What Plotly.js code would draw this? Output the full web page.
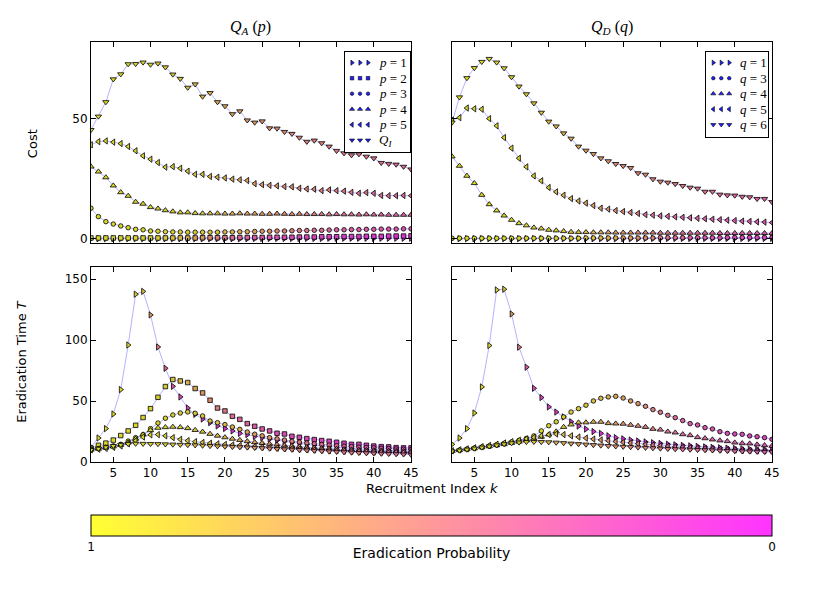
<!DOCTYPE html>
<html>
<head>
<meta charset="utf-8">
<script src="https://cdn.plot.ly/plotly-3.0.1.min.js"></script>
<style>
  body { margin: 0; background: white; }
  #plot { width: 830px; height: 593px; }
</style>
</head>
<body>
<div id="plot"></div>
<script>
// Recruitment index k (x axis for every panel)
let kIdx = [2,3,4,5,6,7,8,9,10,11,12,13,14,15,16,17,18,19,20,21,22,23,24,25,26,27,28,29,30,31,32,33,34,35,36,37,38,39,40,41,42,43,44,45];

// Cost, Q_A(p) panel
let costP1 = [0.1,0.1,0.1,0.1,0.1,0.1,0.1,0.1,0.1,0.1,0.1,0.1,0.1,0.1,0.1,0.1,0.1,0.1,0.1,0.1,0.1,0.1,0.2,0.2,0.2,0.2,0.2,0.2,0.2,0.2,0.2,0.2,0.3,0.3,0.3,0.3,0.3,0.3,0.3,0.3,0.3,0.3,0.3,0.3];
let costP2 = [0.4,0.4,0.4,0.4,0.4,0.4,0.4,0.4,0.4,0.4,0.4,0.4,0.4,0.4,0.4,0.5,0.5,0.5,0.5,0.5,0.6,0.6,0.6,0.6,0.7,0.7,0.7,0.7,0.8,0.8,0.8,0.9,0.9,0.9,1.0,1.0,1.0,1.1,1.1,1.1,1.2,1.2,1.2,1.3];
let costP3 = [12.8,9.3,7.2,6.2,5.4,4.7,4.0,3.8,3.3,3.2,3.0,2.9,2.9,2.8,2.8,2.8,2.8,2.8,2.9,2.9,3.0,3.0,3.1,3.2,3.2,3.3,3.3,3.4,3.5,3.5,3.6,3.6,3.7,3.8,3.8,3.9,3.9,4.0,4.0,4.1,4.1,4.1,4.2,4.2];
let costP4 = [30.1,28.0,25.6,22.2,19.4,17.9,15.4,14.6,13.2,12.6,11.9,11.4,11.0,11.0,10.7,10.6,10.6,10.6,10.5,10.5,10.6,10.5,10.5,10.4,10.4,10.5,10.4,10.3,10.4,10.3,10.3,10.3,10.2,10.3,10.2,10.2,10.1,10.2,10.1,10.1,10.0,10.0,10.0,10.0];
let costP5 = [39.2,40.5,40.8,40.3,39.7,38.5,36.7,34.6,33.2,31.8,29.9,30.1,29.4,28.2,26.9,26.9,26.0,25.7,25.4,24.9,24.6,24.3,23.0,22.6,22.3,22.1,21.8,21.7,21.1,20.8,20.7,20.1,20.4,20.1,19.9,19.4,19.0,19.3,19.0,18.1,18.0,18.0,18.1,18.0];
let costQI = [45.4,51.0,57.0,66.5,68.6,72.8,72.9,73.5,72.6,73.1,71.5,68.5,66.7,63.0,64.4,59.3,60.8,57.0,55.3,52.0,53.2,49.4,48.5,49.0,46.1,46.0,44.6,43.8,42.2,40.5,41.0,39.9,38.5,36.7,35.7,34.9,35.3,34.3,33.6,31.7,31.3,31.0,30.1,29.0];

// Cost, Q_D(q) panel
let costQ1 = [0.1,0.1,0.1,0.1,0.1,0.1,0.1,0.1,0.1,0.1,0.1,0.1,0.1,0.1,0.1,0.1,0.1,0.1,0.1,0.1,0.1,0.1,0.1,0.1,0.1,0.1,0.2,0.2,0.2,0.2,0.2,0.2,0.2,0.2,0.2,0.2,0.2,0.2,0.2,0.2,0.2,0.2,0.2,0.2];
let costQ3 = [0.3,0.3,0.3,0.3,0.3,0.3,0.3,0.3,0.3,0.3,0.3,0.3,0.3,0.3,0.3,0.3,0.3,0.3,0.4,0.4,0.4,0.4,0.4,0.4,0.4,0.4,0.4,0.4,0.5,0.5,0.5,0.5,0.5,0.5,0.5,0.5,0.5,0.6,0.6,0.6,0.6,0.6,0.6,0.6];
let costQ4 = [34.3,30.4,26.25,23.2,18.3,14.4,11.8,9.7,7.9,6.5,5.6,4.7,4.3,3.75,3.5,3.2,2.9,2.8,2.8,2.7,2.7,2.7,2.6,2.6,2.6,2.6,2.6,2.6,2.5,2.5,2.5,2.5,2.5,2.5,2.5,2.5,2.4,2.4,2.4,2.4,2.4,2.4,2.4,2.4];
let costQ5 = [49.5,50.5,54.5,54.2,54.0,50.1,47.1,42.2,37.8,33.6,30.0,26.25,24.2,21.4,19.6,18.2,16.8,15.8,14.9,13.9,12.8,12.4,11.8,11.4,11.0,10.6,10.1,9.9,9.6,9.4,9.2,9.0,8.8,8.6,8.4,8.2,8.0,7.8,7.6,7.4,7.3,7.1,7.0,6.8];
let costQ6 = [48.5,59.0,67.0,71.2,73.75,75.0,73.5,71.1,67.4,63.5,60.3,56.5,52.6,48.9,46.9,44.0,41.8,38.5,36.8,35.4,33.6,32.4,31.25,30.4,29.6,27.4,26.8,24.9,23.9,23.5,22.9,22.1,21.4,21.0,19.7,19.7,18.5,18.2,18.1,17.6,17.4,16.7,16.7,15.4];

// Eradication time, Q_A(p)
let timeP1 = [12.3,19.7,27.4,39.4,59.4,96.0,137.7,140.0,120.7,94.4,76.9,62.1,53.4,44.3,39.1,35.3,32.3,29.6,27.5,25.5,23.5,22.5,21.0,20.0,18.8,17.8,16.8,15.9,15.1,14.4,13.7,13.1,12.6,12.1,11.6,11.2,10.8,10.4,10.1,9.8,9.5,9.2,9.0,8.8];
let timeP2 = [11.5,13.7,15.5,18.0,21.7,25.5,30.1,36.5,43.8,53.1,61.9,67.7,66.5,65.2,60.3,56.7,50.7,44.3,41.9,37.5,35.0,31.5,29.3,27.1,25.5,23.6,23.0,21.1,20.3,19.2,18.4,17.6,17.0,16.2,15.4,14.5,14.5,13.7,13.1,12.6,12.4,11.8,11.6,11.6];
let timeP3 = [10.5,11.0,12.0,13.2,14.5,17.2,20.0,22.5,27.4,32.0,35.9,38.6,40.2,41.1,40.0,37.8,33.7,32.3,30.7,28.7,26.8,24.6,22.8,21.5,20.0,19.0,18.0,17.0,16.3,15.6,15.0,14.4,13.9,13.4,13.0,12.6,12.2,11.9,11.6,11.3,11.0,10.7,10.5,10.3];
let timeP4 = [10.0,10.8,11.7,12.7,14.0,16.0,19.0,22.5,26.0,28.0,28.5,28.8,28.5,27.7,26.2,24.8,23.0,21.5,20.2,19.0,18.0,17.0,16.2,15.5,14.8,14.2,13.6,13.1,12.6,12.1,11.7,11.3,11.0,10.7,10.4,10.1,9.9,9.7,9.5,9.3,9.1,9.0,8.8,8.7];
let timeP5 = [10.0,10.5,11.2,12.0,13.2,15.0,17.5,20.5,22.3,22.5,21.5,20.0,18.6,17.5,16.7,16.0,15.4,14.9,14.4,14.0,13.6,13.2,12.8,12.4,12.0,11.6,11.3,11.0,10.7,10.4,10.1,9.8,9.5,9.3,9.1,8.9,8.7,8.5,8.3,8.2,8.0,7.9,7.8,7.7];
let timeQI = [10.0,11.0,12.2,13.3,14.2,14.8,15.1,15.0,14.9,14.8,14.6,14.4,14.2,14.0,13.8,13.5,13.2,13.0,12.7,12.5,12.2,12.0,11.7,11.4,11.1,10.8,10.5,10.2,9.9,9.6,9.3,9.0,8.7,8.4,8.1,7.8,7.5,7.3,7.1,6.9,6.7,6.5,6.3,6.1];

// Eradication time, Q_D(q)
let timeQ1 = [14.5,19.7,27.4,40.2,61.6,95.6,141.2,141.8,121.5,94.2,77.8,60.5,52.9,45.2,41.0,37.0,33.0,29.5,27.0,25.0,23.5,21.5,20.0,19.0,18.0,17.2,16.5,15.8,15.2,14.6,14.1,13.6,13.2,12.8,12.4,12.0,11.7,11.4,11.1,10.8,10.5,10.3,10.1,9.9];
let timeQ3 = [9.0,9.7,10.5,11.3,12.2,13.1,14.1,15.2,16.4,17.8,19.4,21.4,25.5,29.8,33.0,37.0,41.0,43.8,46.6,50.1,52.3,53.4,53.9,52.5,50.1,47.9,45.7,43.0,40.8,38.3,36.4,34.0,31.5,30.4,28.2,27.1,24.9,23.5,23.0,22.7,21.4,20.8,20.0,18.6];
let timeQ4 = [9.0,9.7,10.4,11.2,12.0,12.8,13.7,14.6,15.6,16.6,17.8,19.1,20.6,22.5,25.0,28.7,30.7,32.4,32.4,32.9,32.9,31.8,31.5,31.3,30.4,29.6,28.7,27.1,26.5,24.9,24.1,22.7,21.9,20.3,19.4,18.4,17.6,17.0,15.9,15.3,15.1,14.3,13.7,13.2];
let timeQ5 = [9.3,10.0,10.8,11.7,12.6,13.6,14.6,15.6,16.7,17.8,19.0,20.3,21.5,22.5,23.0,22.5,21.5,20.5,19.6,18.8,18.1,17.4,16.8,16.2,15.6,15.0,14.5,14.0,13.5,13.0,12.6,12.2,11.8,11.4,11.1,10.8,10.5,10.2,9.9,9.7,9.5,9.3,9.1,8.9];
let timeQ6 = [8.8,9.5,10.3,11.1,12.0,12.9,13.8,14.7,15.5,16.1,16.5,16.6,16.5,16.3,16.0,15.6,15.2,14.8,14.4,14.0,13.6,13.2,12.9,12.6,12.3,12.0,11.7,11.4,11.1,10.8,10.6,10.4,10.2,10.0,9.8,9.6,9.4,9.2,9.0,8.8,8.7,8.5,8.4,8.2];

// Eradication probability (marker colour), same for cost and time of a policy
let probP1 = [1.0,1.0,0.99,0.99,0.98,0.97,0.93,0.85,0.62,0.45,0.32,0.24,0.18,0.14,0.12,0.10,0.09,0.08,0.07,0.065,0.06,0.055,0.05,0.05,0.045,0.045,0.04,0.04,0.04,0.035,0.035,0.03,0.03,0.03,0.03,0.025,0.025,0.025,0.02,0.02,0.02,0.02,0.02,0.02];
let probP2 = [1.0,1.0,0.99,0.99,0.98,0.98,0.97,0.96,0.95,0.94,0.92,0.88,0.82,0.75,0.68,0.6,0.53,0.47,0.42,0.38,0.34,0.31,0.28,0.26,0.24,0.22,0.2,0.19,0.18,0.17,0.16,0.15,0.14,0.13,0.12,0.11,0.1,0.1,0.09,0.09,0.08,0.08,0.07,0.07];
let probP3 = [1.0,1.0,1.0,0.99,0.99,0.99,0.98,0.98,0.97,0.97,0.96,0.95,0.94,0.93,0.92,0.9,0.88,0.85,0.82,0.78,0.74,0.7,0.66,0.62,0.58,0.54,0.5,0.47,0.44,0.41,0.39,0.37,0.35,0.33,0.31,0.3,0.29,0.28,0.27,0.26,0.25,0.24,0.23,0.22];
let probP4 = [1.0,1.0,1.0,1.0,0.99,0.99,0.99,0.98,0.98,0.97,0.96,0.95,0.94,0.92,0.9,0.87,0.84,0.81,0.78,0.75,0.72,0.69,0.66,0.63,0.6,0.58,0.56,0.54,0.52,0.5,0.48,0.46,0.45,0.44,0.42,0.41,0.4,0.39,0.38,0.37,0.36,0.35,0.34,0.33];
let probP5 = [1.0,1.0,1.0,1.0,1.0,0.99,0.99,0.98,0.98,0.97,0.96,0.95,0.93,0.91,0.89,0.86,0.83,0.8,0.77,0.74,0.71,0.68,0.65,0.62,0.6,0.58,0.56,0.54,0.52,0.5,0.49,0.47,0.46,0.45,0.44,0.43,0.42,0.41,0.4,0.39,0.38,0.37,0.36,0.35];
let probQI = [1.0,1.0,1.0,1.0,0.99,0.99,0.98,0.97,0.96,0.94,0.92,0.9,0.87,0.84,0.81,0.78,0.75,0.72,0.69,0.66,0.64,0.62,0.6,0.58,0.56,0.54,0.53,0.52,0.5,0.49,0.48,0.47,0.46,0.45,0.44,0.43,0.42,0.41,0.4,0.39,0.38,0.37,0.36,0.35];
let probQ1 = [1.0,1.0,0.99,0.99,0.98,0.97,0.94,0.86,0.62,0.42,0.28,0.2,0.15,0.12,0.1,0.09,0.08,0.07,0.06,0.055,0.05,0.05,0.045,0.045,0.04,0.04,0.035,0.035,0.03,0.03,0.03,0.03,0.025,0.025,0.025,0.02,0.02,0.02,0.02,0.02,0.02,0.015,0.015,0.015];
let probQ3 = [1.0,1.0,1.0,1.0,1.0,0.99,0.99,0.99,0.98,0.98,0.98,0.97,0.97,0.96,0.95,0.94,0.93,0.91,0.89,0.86,0.82,0.78,0.73,0.68,0.63,0.58,0.53,0.48,0.44,0.4,0.36,0.33,0.3,0.28,0.26,0.24,0.22,0.2,0.19,0.18,0.17,0.16,0.15,0.14];
let probQ4 = [1.0,1.0,1.0,1.0,1.0,0.99,0.99,0.99,0.98,0.98,0.97,0.96,0.95,0.94,0.92,0.9,0.87,0.84,0.8,0.76,0.72,0.68,0.64,0.6,0.57,0.54,0.51,0.48,0.46,0.44,0.42,0.4,0.38,0.36,0.35,0.34,0.33,0.32,0.31,0.3,0.29,0.28,0.27,0.26];
let probQ5 = [1.0,1.0,1.0,1.0,0.99,0.99,0.99,0.98,0.98,0.97,0.96,0.94,0.92,0.89,0.86,0.82,0.78,0.74,0.7,0.66,0.62,0.58,0.55,0.52,0.49,0.46,0.44,0.42,0.4,0.38,0.36,0.35,0.34,0.33,0.32,0.31,0.3,0.29,0.28,0.27,0.26,0.25,0.25,0.24];
let probQ6 = [1.0,1.0,1.0,0.99,0.99,0.98,0.97,0.96,0.94,0.92,0.89,0.86,0.83,0.8,0.77,0.74,0.71,0.68,0.65,0.62,0.6,0.58,0.56,0.54,0.52,0.5,0.49,0.48,0.47,0.46,0.45,0.44,0.43,0.42,0.41,0.4,0.39,0.38,0.37,0.36,0.35,0.34,0.33,0.32];

// Legend labels and tick labels
let labelsA = ['<i>p</i> = 1', '<i>p</i> = 2', '<i>p</i> = 3', '<i>p</i> = 4', '<i>p</i> = 5', '<i>Q<sub>I</sub></i>'];
let labelsD = ['<i>q</i> = 1', '<i>q</i> = 3', '<i>q</i> = 4', '<i>q</i> = 5', '<i>q</i> = 6'];
let xTicks = [5,10,15,20,25,30,35,40,45];
let costTicks = [0,50];
let timeTicks = [0,50,100,150];

let symbolsA = ['triangle-right', 'square', 'circle', 'triangle-up', 'triangle-left', 'triangle-down'];
let symbolsD = ['triangle-right', 'circle', 'triangle-up', 'triangle-left', 'triangle-down'];

// spring colormap, yellow = probability 1, magenta = probability 0
let springScale = [[0, 'rgba(255,255,0,0.8)'], [1, 'rgba(255,0,255,0.8)']];
let markerScale = [[0, 'rgb(215,215,40)'], [0.5, 'rgb(215,130,110)'], [1, 'rgb(215,40,215)']];
let lineColor = 'rgba(0,0,255,0.3)';

// legend box layout, in pixels inside each box (matplotlib style, three keys per row)
let keyX = [7, 15, 23];
let keyTextX = 32;
let rowStep = 15.5;
let rowFirst = 10.7;

let panels = [
  {xa: 'x',  ya: 'y',  legx: 'x5', legy: 'y5', labels: labelsA, symbols: symbolsA,
   ys: [costP1, costP2, costP3, costP4, costP5, costQI],
   probs: [probP1, probP2, probP3, probP4, probP5, probQI]},
  {xa: 'x2', ya: 'y2', legx: 'x6', legy: 'y6', labels: labelsD, symbols: symbolsD,
   ys: [costQ1, costQ3, costQ4, costQ5, costQ6],
   probs: [probQ1, probQ3, probQ4, probQ5, probQ6]},
  {xa: 'x3', ya: 'y3', legx: null, legy: null, labels: labelsA, symbols: symbolsA,
   ys: [timeP1, timeP2, timeP3, timeP4, timeP5, timeQI],
   probs: [probP1, probP2, probP3, probP4, probP5, probQI]},
  {xa: 'x4', ya: 'y4', legx: null, legy: null, labels: labelsD, symbols: symbolsD,
   ys: [timeQ1, timeQ3, timeQ4, timeQ5, timeQ6],
   probs: [probQ1, probQ3, probQ4, probQ5, probQ6]}
];

function markerSize(sym) {
  return sym.indexOf('triangle') == 0 ? 5.5 : 4.5;
}

let lineTraces = [];
let markerTraces = [];
let legendTraces = [];
let legendNotes = [];

for (let i in panels) {
  let pan = panels[i];
  for (let j in pan.ys) {
    lineTraces.push({
      x: kIdx, y: pan.ys[j], xaxis: pan.xa, yaxis: pan.ya,
      mode: 'lines', line: {color: lineColor, width: 1},
      showlegend: false, hoverinfo: 'skip'
    });
    let sym = pan.symbols[j];
    markerTraces.push({
      x: kIdx, y: pan.ys[j], xaxis: pan.xa, yaxis: pan.ya,
      mode: 'markers', showlegend: false, name: pan.labels[j],
      marker: {
        symbol: sym, size: markerSize(sym),
        color: pan.probs[j].map(function(p) { return 1 - p; }),
        cmin: 0, cmax: 1, colorscale: markerScale,
        line: {color: 'black', width: 0.8},
        showscale: false
      }
    });
    // hand made legend row
    if (pan.legx) {
      let rowY = rowFirst + j * rowStep;
      legendTraces.push({
        x: keyX, y: [rowY, rowY, rowY], xaxis: pan.legx, yaxis: pan.legy,
        mode: 'markers', showlegend: false, hoverinfo: 'skip',
        marker: {symbol: sym, size: markerSize(sym) - 1,
                 color: '#2020ff', line: {color: 'black', width: 0.6}}
      });
      legendNotes.push({
        text: pan.labels[j], x: keyTextX, y: rowY, xref: pan.legx, yref: pan.legy,
        showarrow: false, xanchor: 'left', yanchor: 'middle',
        font: {family: 'Liberation Serif', size: 13, color: 'black'}
      });
    }
  }
}

// colour bar only (uses the same probability scale, drawn from one invisible point)
let barTrace = {
  x: [null], y: [null], xaxis: 'x', yaxis: 'y', mode: 'markers', showlegend: false,
  marker: {
    color: [0], cmin: 0, cmax: 1, colorscale: springScale, showscale: true,
    colorbar: {
      orientation: 'h',
      x: 0.5199, xanchor: 'center',
      y: 0.1315, yanchor: 'top',
      len: 0.8205, lenmode: 'fraction',
      thickness: 21, thicknessmode: 'pixels',
      xpad: 0, ypad: 0,
      outlinecolor: 'black', outlinewidth: 1,
      tickvals: [0, 1], ticktext: ['1', '0'], ticks: '',
      tickfont: {family: 'DejaVu Sans', size: 12, color: 'black'},
      title: {text: 'Eradication Probability', side: 'bottom',
              font: {family: 'DejaVu Sans', size: 14, color: 'black'}}
    }
  }
};

let tickFont = {family: 'DejaVu Sans', size: 12, color: 'black'};

function xAxis(dom, anchor, labels) {
  return {
    domain: dom, anchor: anchor, range: [2, 45], tickvals: xTicks,
    showticklabels: labels, ticks: 'inside', ticklen: 5, tickcolor: 'black',
    showline: true, mirror: 'ticks', linecolor: 'black', linewidth: 1,
    showgrid: false, zeroline: false, tickfont: tickFont
  };
}

function yAxis(dom, anchor, range, vals, labels) {
  return {
    domain: dom, anchor: anchor, range: range, tickvals: vals,
    showticklabels: labels, ticks: 'inside', ticklen: 5, tickcolor: 'black',
    showline: true, mirror: 'ticks', linecolor: 'black', linewidth: 1,
    showgrid: false, zeroline: false, tickfont: tickFont
  };
}

// legend box axes: range in pixels of the box
function boxAxis(dom, anchor, range) {
  return {
    domain: dom, anchor: anchor, range: range, showline: true, mirror: true,
    linecolor: 'black', linewidth: 1, ticks: '', showticklabels: false,
    showgrid: false, zeroline: false, fixedrange: true
  };
}

let leftDom = [0.1096, 0.4952];
let rightDom = [0.5446, 0.9301];
let topDom = [0.5902, 0.9292];
let botDom = [0.2209, 0.5497];

let layout = {
  width: 830, height: 593,
  margin: {l: 0, r: 0, t: 0, b: 0},
  paper_bgcolor: 'white', plot_bgcolor: 'white',
  showlegend: false,
  xaxis: xAxis(leftDom, 'y', false),
  yaxis: yAxis(topDom, 'x', [-1.7, 82], costTicks, true),
  xaxis2: xAxis(rightDom, 'y2', false),
  yaxis2: yAxis(topDom, 'x2', [-1.7, 82], costTicks, false),
  xaxis3: xAxis(leftDom, 'y3', true),
  yaxis3: yAxis(botDom, 'x3', [0, 160], timeTicks, true),
  xaxis4: xAxis(rightDom, 'y4', true),
  yaxis4: yAxis(botDom, 'x4', [0, 160], timeTicks, false),
  xaxis5: boxAxis([0.4157, 0.4940], 'y5', [0, 65]),
  yaxis5: boxAxis([0.7437, 0.9123], 'x5', [100, 0]),
  xaxis6: boxAxis([0.8510, 0.9253], 'y6', [0, 62]),
  yaxis6: boxAxis([0.7690, 0.9123], 'x6', [85, 0]),
  annotations: [
    {text: '<i>Q<sub>A</sub></i> (<i>p</i>)', x: 0.3024, y: 0.9528, xref: 'paper', yref: 'paper',
     showarrow: false, xanchor: 'center', yanchor: 'middle',
     font: {family: 'Liberation Serif', size: 16, color: 'black'}},
    {text: '<i>Q<sub>D</sub></i> (<i>q</i>)', x: 0.7373, y: 0.9528, xref: 'paper', yref: 'paper',
     showarrow: false, xanchor: 'center', yanchor: 'middle',
     font: {family: 'Liberation Serif', size: 16, color: 'black'}},
    {text: 'Cost', x: 0.0386, y: 0.757, xref: 'paper', yref: 'paper', textangle: -90,
     showarrow: false, xanchor: 'center', yanchor: 'middle',
     font: {family: 'DejaVu Sans', size: 13, color: 'black'}},
    {text: 'Eradication Time <i>T</i>', x: 0.0265, y: 0.39, xref: 'paper', yref: 'paper', textangle: -90,
     showarrow: false, xanchor: 'center', yanchor: 'middle',
     font: {family: 'DejaVu Sans', size: 13, color: 'black'}},
    {text: 'Recruitment Index <i>k</i>', x: 0.52, y: 0.176, xref: 'paper', yref: 'paper',
     showarrow: false, xanchor: 'center', yanchor: 'middle',
     font: {family: 'DejaVu Sans', size: 13, color: 'black'}}
  ].concat(legendNotes)
};

Plotly.newPlot('plot', lineTraces.concat(markerTraces, legendTraces, [barTrace]), layout, {displayModeBar: false, staticPlot: true});
</script>
</body>
</html>
